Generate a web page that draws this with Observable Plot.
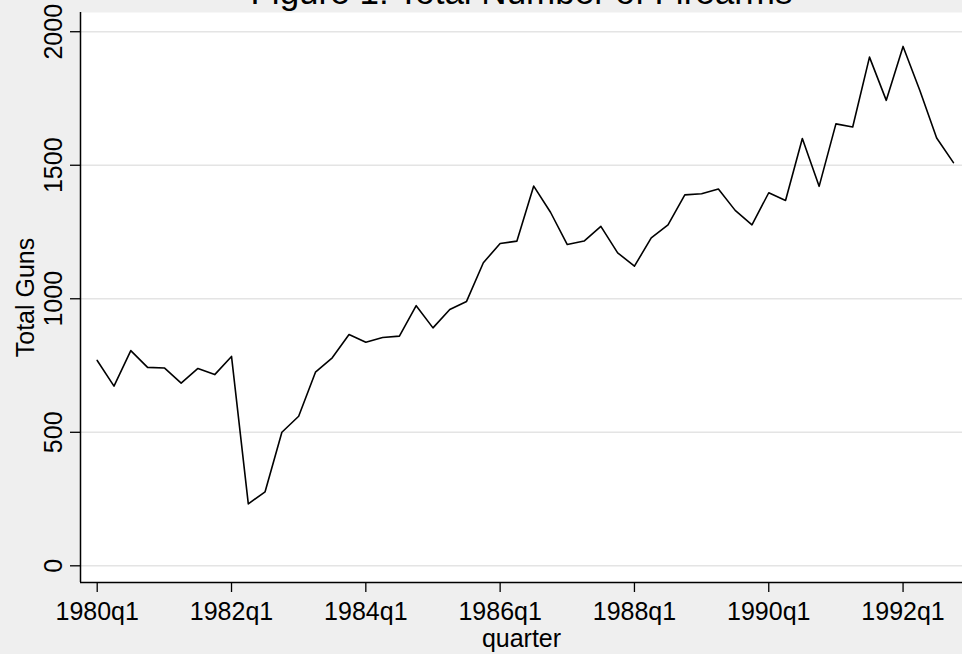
<!DOCTYPE html>
<html>
<head>
<meta charset="utf-8">
<script src="https://cdn.jsdelivr.net/npm/d3@7"></script>
<script src="https://cdn.jsdelivr.net/npm/@observablehq/plot@0.6"></script>
<style>
  html, body { margin: 0; padding: 0; background: #efefef; }
  #chart svg { display: block; }
</style>
</head>
<body>
<div id="chart"></div>
<script>
// ---- data ----
const titleText = "Figure 1: Total Number of Firearms";
const yLabel = "Total Guns";
const xLabel = "quarter";
const quarters = [
  "1980q1","1980q2","1980q3","1980q4","1981q1","1981q2","1981q3","1981q4",
  "1982q1","1982q2","1982q3","1982q4","1983q1","1983q2","1983q3","1983q4",
  "1984q1","1984q2","1984q3","1984q4","1985q1","1985q2","1985q3","1985q4",
  "1986q1","1986q2","1986q3","1986q4","1987q1","1987q2","1987q3","1987q4",
  "1988q1","1988q2","1988q3","1988q4","1989q1","1989q2","1989q3","1989q4",
  "1990q1","1990q2","1990q3","1990q4","1991q1","1991q2","1991q3","1991q4",
  "1992q1","1992q2","1992q3","1992q4"
];
const totalGuns = [
  769, 673, 806, 743, 741, 684, 739, 716,
  784, 232, 277, 500, 560, 725, 779, 866,
  837, 855, 860, 974, 891, 960, 990, 1135,
  1207, 1216, 1422, 1324, 1203, 1216, 1271, 1172,
  1122, 1228, 1277, 1389, 1393, 1411, 1331, 1277,
  1397, 1368, 1600, 1421, 1655, 1643, 1905, 1743,
  1945, 1780, 1602, 1510
];
const xTickLabels = ["1980q1","1982q1","1984q1","1986q1","1988q1","1990q1","1992q1"];
const yTicks = [0, 500, 1000, 1500, 2000];

// ---- build ----
const qIndex = s => (+s.slice(0, 4) - 1980) * 4 + (+s.slice(5) - 1);
const data = quarters.map((q, i) => ({q, x: qIndex(q), v: totalGuns[i]}));
const xTicks = xTickLabels.map(qIndex);
const labelOf = new Map(xTickLabels.map(s => [qIndex(s), s]));

const xDomain = [-0.995, 51.54];
const yDomain = [-62.5, 2072];
const font = "'Liberation Sans', Arial, Helvetica, sans-serif";

const chart = Plot.plot({
  width: 962,
  height: 654,
  marginLeft: 80,
  marginRight: 0,
  marginTop: 12,
  marginBottom: 72,
  style: {background: "#efefef", fontFamily: font, fontSize: "25px", color: "black", overflow: "visible"},
  x: {domain: xDomain, axis: null},
  y: {domain: yDomain, axis: null},
  marks: [
    Plot.frame({fill: "white", stroke: null}),
    Plot.gridY(yTicks, {stroke: "#e4e4e4", strokeOpacity: 1, strokeWidth: 1.5}),
    Plot.axisY(yTicks, {anchor: "left", tickSize: 10, tickFormat: () => "", label: null, strokeWidth: 1.3}),
    Plot.text(yTicks, {y: d => d, text: d => String(d), frameAnchor: "left", dx: -19, rotate: -90,
      textAnchor: "middle", lineAnchor: "bottom", fontSize: 25, fill: "black"}),
    Plot.axisX(xTicks, {anchor: "bottom", tickSize: 10, tickPadding: 10, tickFormat: d => labelOf.get(d),
      label: null, fontSize: 25, strokeWidth: 1.3}),
    Plot.ruleX([xDomain[0]], {stroke: "black", strokeWidth: 1.5}),
    Plot.ruleY([yDomain[0]], {stroke: "black", strokeWidth: 1.5}),
    Plot.line(data, {x: "x", y: "v", stroke: "black", strokeWidth: 1.6}),
    Plot.text([yLabel], {frameAnchor: "left", dx: -47, rotate: -90, textAnchor: "middle",
      lineAnchor: "bottom", fontSize: 25, fill: "black"}),
    Plot.text([xLabel], {frameAnchor: "bottom", dy: 64, textAnchor: "middle", lineAnchor: "bottom",
      fontSize: 25, fill: "black"}),
    Plot.text([titleText], {frameAnchor: "top", dy: -9, textAnchor: "middle", lineAnchor: "bottom",
      fontSize: 35, fill: "black"})
  ]
});
document.getElementById("chart").append(chart);
</script>
</body>
</html>
